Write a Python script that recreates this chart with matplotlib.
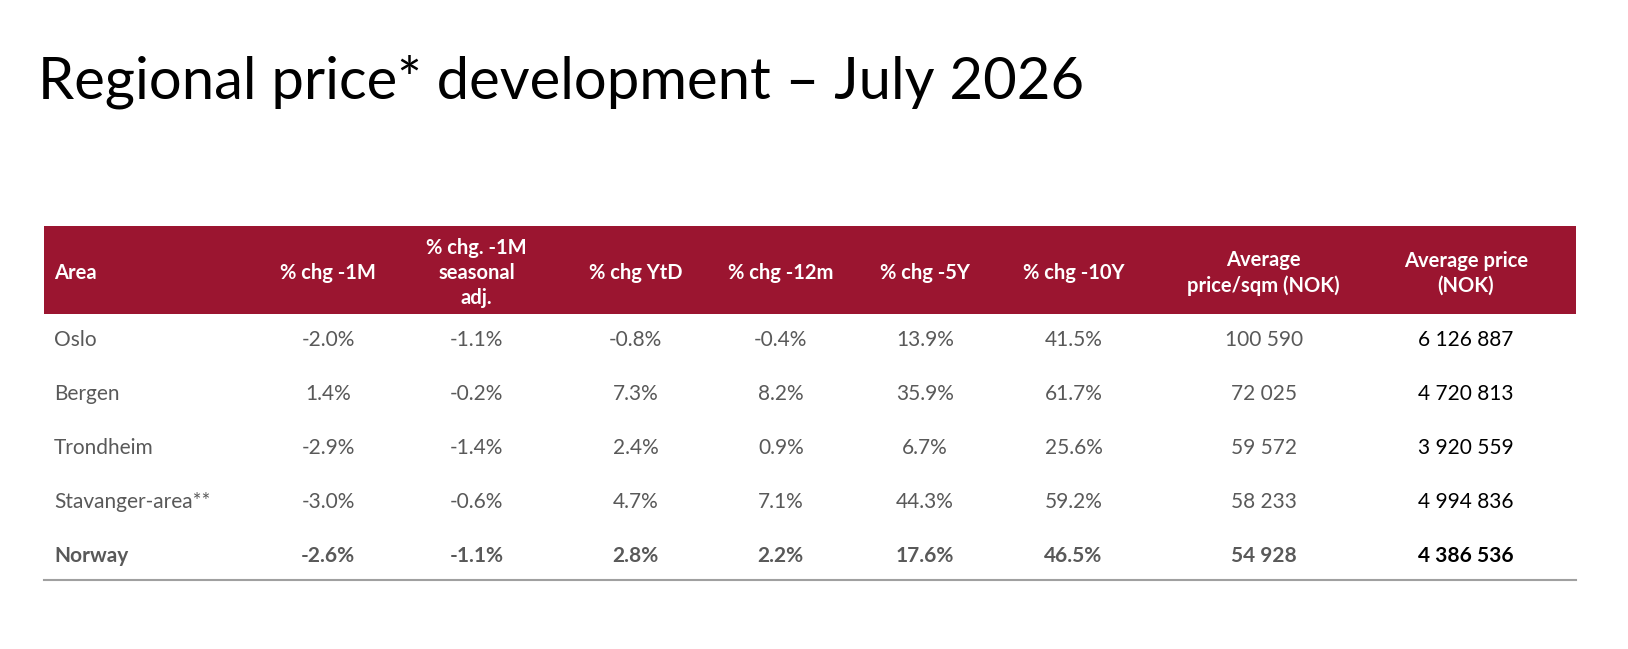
import numpy as np
import matplotlib.pyplot as plt
from matplotlib.patches import Rectangle

areas = ['Oslo', 'Bergen', 'Trondheim', 'Stavanger-area**', 'Norway']
chg_1m = [-2.0, 1.4, -2.9, -3.0, -2.6]
chg_1m_sa = [-1.1, -0.2, -1.4, -0.6, -1.1]
chg_ytd = [-0.8, 7.3, 2.4, 4.7, 2.8]
chg_12m = [-0.4, 8.2, 0.9, 7.1, 2.2]
chg_5y = [13.9, 35.9, 6.7, 44.3, 17.6]
chg_10y = [41.5, 61.7, 25.6, 59.2, 46.5]
price_sqm = [100590, 72025, 59572, 58233, 54928]
avg_price = [6126887, 4720813, 3920559, 4994836, 4386536]

headers = ['Area', '% chg -1M', '% chg. -1M\nseasonal\nadj.', '% chg YtD', '% chg -12m',
           '% chg -5Y', '% chg -10Y', 'Average\nprice/sqm (NOK)', 'Average price\n(NOK)']

plt.rcParams['font.family'] = ['Lato', 'DejaVu Sans']

W, H = 1628, 649
fig = plt.figure(figsize=(W / 100, H / 100), dpi=100)
ax = fig.add_axes([0, 0, 1, 1])
# layout units: the picture scaled to 1568 wide
ax.set_xlim(0, 1568)
ax.set_ylim(625, 0)
ax.axis('off')

red = '#9b1530'
grey = '#595959'

def pct(v):
    return f'{v:.1f}%'

def nok(v):
    return f'{v:,}'.replace(',', ' ')

ax.text(37, 95, 'Regional price* development \u2013 July 2026', fontsize=41.8,
        va='baseline', ha='left', color='black')

# header band
ax.add_patch(Rectangle((42, 218), 1476, 84, color=red, lw=0))
col_x = [52, 316, 459, 612, 752, 891, 1034, 1217, 1412]
head_y = 263
for i, h in enumerate(headers):
    ax.text(col_x[i], head_y, h, ha='left' if i == 0 else 'center', va='center',
            color='white', fontsize=14.5, fontweight='bold', linespacing=1.3)

row_y = [327, 379, 431, 483, 535]
for r, a in enumerate(areas):
    fw = 'bold' if a == 'Norway' else 'normal'
    cells = [pct(chg_1m[r]), pct(chg_1m_sa[r]), pct(chg_ytd[r]), pct(chg_12m[r]),
             pct(chg_5y[r]), pct(chg_10y[r]), nok(price_sqm[r])]
    ax.text(col_x[0], row_y[r], a, ha='left', va='center', color=grey,
            fontsize=15, fontweight=fw)
    for c, t in enumerate(cells):
        ax.text(col_x[c + 1], row_y[r], t, ha='center', va='center', color=grey,
                fontsize=15, fontweight=fw)
    ax.text(col_x[8], row_y[r], nok(avg_price[r]), ha='center', va='center',
            color='black', fontsize=15, fontweight=fw)

ax.plot([42, 1518], [559, 559], color='#a0a0a0', lw=1.5)

fig.savefig('out.png', dpi=100, facecolor='white')
